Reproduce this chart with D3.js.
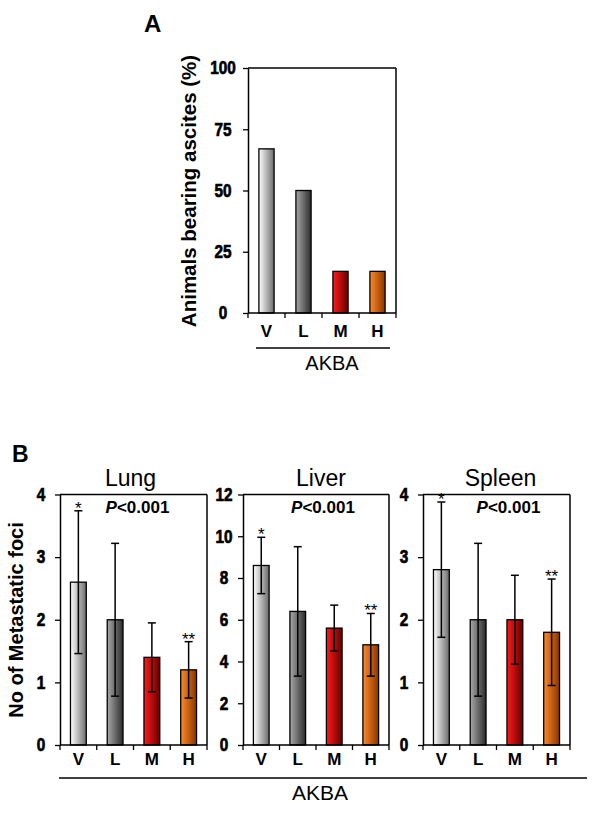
<!DOCTYPE html>
<html><head><meta charset="utf-8">
<script src="https://cdn.jsdelivr.net/npm/d3@7"></script>
<style>body{margin:0;background:#fff}</style>
</head><body>
<script>
// ---------------- data ----------------
const categories = ["V", "L", "M", "H"];
const ascitesPct = [67, 50, 17, 17];
const ascitesTicks = [0, 25, 50, 75, 100];
const lungMean = [2.6, 2.0, 1.4, 1.2];
const lungSD = [1.14, 1.22, 0.55, 0.45];
const liverMean = [8.6, 6.4, 5.6, 4.8];
const liverSD = [1.35, 3.1, 1.1, 1.5];
const spleenMean = [2.8, 2.0, 2.0, 1.8];
const spleenSD = [1.08, 1.22, 0.71, 0.85];
const countTicks = [0, 1, 2, 3, 4];
const liverTicks = [0, 2, 4, 6, 8, 10, 12];
const sigMarks = ["*", "", "", "**"];
const organs = ["Lung", "Liver", "Spleen"];
const groupLabel = "AKBA";
const yLabelA = "Animals bearing ascites (%)";
const yLabelB = "No of Metastatic foci";
const barColors = [["#ffffff", "#6c6c6c"], ["#a8a8a8", "#2c2c2c"], ["#ff1a1a", "#680000"], ["#ff8a2a", "#8a3500"]];

// ---------------- setup ----------------
const W = 600, H = 813;
const ARIAL = "'Liberation Sans', Arial, sans-serif";
const svg = d3.select("body").append("svg").attr("width", W).attr("height", H)
  .style("background", "#fff");

const defs = svg.append("defs");
barColors.forEach((c, i) => {
  const g = defs.append("linearGradient").attr("id", "grad" + i)
    .attr("x1", "0%").attr("x2", "100%").attr("y1", "0%").attr("y2", "0%");
  g.append("stop").attr("offset", "0%").attr("stop-color", c[0]);
  g.append("stop").attr("offset", "100%").attr("stop-color", c[1]);
});

function drawPanel(cfg) {
  const g = svg.append("g");
  const x = d3.scaleBand().domain(categories).range([cfg.x0, cfg.x1]).padding(0);
  const y = d3.scaleLinear().domain([0, cfg.max]).range([cfg.yBot, cfg.yTop]);
  const bw = x.bandwidth() * cfg.barFrac;

  // bars
  g.selectAll("rect.bar").data(cfg.values).join("rect")
    .attr("x", (d, i) => x(categories[i]) + x.bandwidth() / 2 - bw / 2)
    .attr("y", d => y(d))
    .attr("width", bw)
    .attr("height", d => y(0) - y(d))
    .attr("fill", (d, i) => `url(#grad${i})`)
    .attr("stroke", "#000").attr("stroke-width", 1.3);

  // error bars
  if (cfg.errs) {
    cfg.values.forEach((m, i) => {
      const cx = x(categories[i]) + x.bandwidth() / 2;
      const hi = y(m + cfg.errs[i]), lo = y(m - cfg.errs[i]);
      g.append("line").attr("x1", cx).attr("x2", cx).attr("y1", hi).attr("y2", lo)
        .attr("stroke", "#000").attr("stroke-width", 1.5);
      [hi, lo].forEach(yy => g.append("line").attr("x1", cx - 4).attr("x2", cx + 4)
        .attr("y1", yy).attr("y2", yy).attr("stroke", "#000").attr("stroke-width", 1.5));
      if (cfg.sig && cfg.sig[i]) {
        g.append("text").attr("x", cx).attr("y", hi + 3)
          .attr("text-anchor", "middle").attr("font-family", ARIAL)
          .attr("font-size", 17).text(cfg.sig[i]);
      }
    });
  }

  // y axis
  const ya = g.append("g").attr("transform", `translate(${cfg.x0},0)`)
    .call(d3.axisLeft(y).tickValues(cfg.ticks).tickSize(5).tickSizeOuter(0)
      .tickFormat(d3.format("d")));
  ya.select(".domain").attr("stroke", "#000").attr("stroke-width", 1.5);
  ya.selectAll(".tick line").attr("stroke", "#000").attr("stroke-width", 1.3);
  ya.selectAll(".tick text").attr("x", 0).attr("text-anchor", "middle")
    .attr("transform", `translate(${-cfg.labelOff},0) scale(0.85,1)`)
    .attr("font-family", ARIAL).attr("font-weight", "bold")
    .attr("font-size", 18).attr("fill", "#000")
    .attr("stroke", "#000").attr("stroke-width", 0.7);

  // box top & right
  g.append("line").attr("x1", cfg.x0).attr("x2", cfg.x1).attr("y1", cfg.yTop).attr("y2", cfg.yTop)
    .attr("stroke", "#000").attr("stroke-width", 1.5);
  g.append("line").attr("x1", cfg.x1).attr("x2", cfg.x1).attr("y1", cfg.yTop).attr("y2", cfg.yBot)
    .attr("stroke", "#000").attr("stroke-width", 1.5);

  // x axis line and boundary ticks
  g.append("line").attr("x1", cfg.x0).attr("x2", cfg.x1).attr("y1", cfg.yBot).attr("y2", cfg.yBot)
    .attr("stroke", "#000").attr("stroke-width", 1.5);
  const bounds = categories.map(c => x(c)).concat([cfg.x1]);
  g.selectAll("line.xt").data(bounds).join("line")
    .attr("x1", d => d).attr("x2", d => d).attr("y1", cfg.yBot).attr("y2", cfg.yBot + 5)
    .attr("stroke", "#000").attr("stroke-width", 1.3);
  const xa = g.append("g").attr("transform", `translate(0,${cfg.yBot})`)
    .call(d3.axisBottom(x).tickSize(0).tickPadding(cfg.xPad));
  xa.select(".domain").remove();
  xa.selectAll(".tick text").attr("font-family", ARIAL).attr("font-weight", "bold")
    .attr("font-size", 17).attr("fill", "#000");

  return { x, y, g };
}

// ---------------- Panel A ----------------
svg.append("text").attr("x", 144).attr("y", 32).attr("font-family", ARIAL)
  .attr("font-weight", "bold").attr("font-size", 24).text("A");
drawPanel({ x0: 248, x1: 396, yTop: 68, yBot: 313, max: 100, ticks: ascitesTicks,
  values: ascitesPct, barFrac: 0.41, labelOff: 25, xPad: 12 });
svg.append("text").attr("transform", "translate(196,191) rotate(-90)")
  .attr("text-anchor", "middle").attr("font-family", ARIAL).attr("font-weight", "bold")
  .attr("font-size", 20.5).text(yLabelA);
svg.append("line").attr("x1", 256).attr("x2", 390).attr("y1", 348).attr("y2", 348)
  .attr("stroke", "#000").attr("stroke-width", 1.3);
svg.append("text").attr("x", 332).attr("y", 370).attr("text-anchor", "middle")
  .attr("font-family", ARIAL).attr("font-size", 20).text(groupLabel);

// ---------------- Panel B ----------------
svg.append("text").attr("x", 12).attr("y", 462).attr("font-family", ARIAL)
  .attr("font-weight", "bold").attr("font-size", 23).text("B");

const panelsB = [
  { x0: 60, x1: 207, max: 4, ticks: countTicks, values: lungMean, errs: lungSD, tOff: -3, pOff: 4 },
  { x0: 243, x1: 389, max: 12, ticks: liverTicks, values: liverMean, errs: liverSD, tOff: 5, pOff: 7 },
  { x0: 423, x1: 570, max: 4, ticks: countTicks, values: spleenMean, errs: spleenSD, tOff: 4, pOff: 12 }
];
panelsB.forEach((p, k) => {
  drawPanel(Object.assign({ yTop: 494.5, yBot: 745, barFrac: 0.43, labelOff: 19,
    xPad: 8, sig: sigMarks }, p));
  const cx = (p.x0 + p.x1) / 2;
  svg.append("text").attr("x", cx + p.tOff).attr("y", 486).attr("text-anchor", "middle")
    .attr("font-family", ARIAL).attr("font-size", 23).text(organs[k]);
  const t = svg.append("text").attr("x", cx + p.pOff).attr("y", 513).attr("text-anchor", "middle")
    .attr("font-family", ARIAL).attr("font-weight", "bold").attr("font-size", 17);
  t.append("tspan").attr("font-style", "italic").text("P");
  t.append("tspan").text("<0.001");
});
svg.append("text").attr("transform", "translate(23,620) rotate(-90)")
  .attr("text-anchor", "middle").attr("font-family", ARIAL).attr("font-weight", "bold")
  .attr("font-size", 20).text(yLabelB);
svg.append("line").attr("x1", 59).attr("x2", 587).attr("y1", 778).attr("y2", 778)
  .attr("stroke", "#000").attr("stroke-width", 1.3);
svg.append("text").attr("x", 320).attr("y", 800).attr("text-anchor", "middle")
  .attr("font-family", ARIAL).attr("font-size", 21).text(groupLabel);
</script>
</body></html>
